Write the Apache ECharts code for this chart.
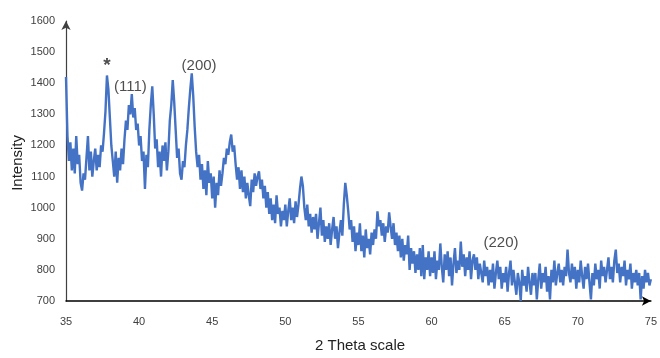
<!DOCTYPE html>
<html>
<head>
<meta charset="utf-8">
<script src="https://cdn.jsdelivr.net/npm/echarts@6/dist/echarts.min.js"></script>
<style>
    html, body { margin: 0; padding: 0; background: #fff; }
    #XrdChart { width: 660px; height: 358px; }
</style>
</head>
<body>
<div id="XrdChart"></div>
<script>
// scan settings (2 theta, degrees)
var scanStart = 35;
var scanStep = 0.1;
// intensity, one row per degree
var intensity = [
    1420, 1230, 1150, 1210, 1120, 1190, 1110, 1230, 1140, 1170,  // 35
    1080, 1055, 1110, 1090, 1160, 1230, 1120, 1180, 1100, 1150,  // 36
    1190, 1120, 1170, 1130, 1200, 1180, 1240, 1310, 1425, 1380,  // 37
    1290, 1200, 1150, 1100, 1180, 1080, 1160, 1120, 1190, 1140,  // 38
    1220, 1280, 1250, 1330, 1300, 1365, 1290, 1320, 1250, 1270,  // 39
    1200, 1230, 1150, 1180, 1060, 1170, 1130, 1250, 1330, 1390,  // 40
    1300, 1190, 1220, 1130, 1180, 1100, 1200, 1150, 1210, 1120,  // 41
    1180, 1280, 1330, 1410, 1340, 1250, 1160, 1190, 1110, 1090,  // 42
    1150, 1130, 1200, 1250, 1320, 1380, 1432, 1360, 1260, 1180,  // 43
    1130, 1170, 1090, 1140, 1060, 1120, 1040, 1150, 1080, 1110,  // 44
    1030, 1100, 1000, 1080, 1040, 1120, 1070, 1110, 1160, 1140,  // 45
    1190, 1170, 1210, 1235, 1180, 1200, 1140, 1090, 1130, 1060,  // 46
    1120, 1050, 1100, 1030, 1080, 1040, 1005, 1090, 1050, 1110,  // 47
    1070, 1100, 1117, 1060, 1090, 1030, 1070, 1000, 1050, 980,   // 48
    1030, 960, 1010, 950, 1040, 980, 1000, 940, 990, 960,        // 49
    1010, 940, 990, 1030, 960, 1000, 950, 1020, 970, 1010,       // 50
    1060, 1100, 1070, 1000, 960, 1010, 940, 980, 920, 970,       // 51
    930, 980, 900, 950, 1000, 910, 960, 890, 940, 900,           // 52
    950, 880, 930, 970, 900, 940, 870, 920, 960, 910,            // 53
    1010, 1080, 1040, 990, 930, 960, 890, 940, 860, 920,         // 54
    880, 950, 860, 910, 840, 930, 870, 900, 850, 920,            // 55
    880, 930, 900, 988, 940, 960, 910, 950, 890, 940,            // 56
    920, 985, 940, 900, 950, 880, 920, 860, 910, 840,            // 57
    900, 830, 880, 850, 910, 800, 870, 820, 860, 790,            // 58
    850, 800, 870, 780, 880, 770, 840, 800, 860, 780,            // 59
    840, 790, 860, 770, 830, 800, 885, 810, 760, 850,            // 60
    800, 860, 780, 840, 750, 820, 870, 790, 830, 800,            // 61
    891, 810, 850, 780, 840, 800, 860, 770, 830, 850,            // 62
    800, 840, 770, 820, 790, 760, 830, 780, 810, 750,            // 63
    800, 760, 820, 740, 790, 830, 770, 810, 740, 790,            // 64
    760, 810, 730, 790, 830, 750, 800, 760, 720, 790,            // 65
    760, 700, 800, 750, 780, 730, 810, 760, 720, 790,            // 66
    750, 790, 705, 770, 820, 740, 790, 760, 810, 730,            // 67
    780, 705, 800, 760, 830, 750, 790, 820, 760, 800,            // 68
    750, 810, 780, 865, 790, 760, 820, 770, 810, 740,            // 69
    800, 760, 830, 780, 740, 810, 770, 820, 760, 705,            // 70
    790, 750, 820, 770, 800, 740, 830, 780, 810, 760,            // 71
    800, 840, 770, 810, 760, 830, 865, 790, 820, 760,            // 72
    810, 780, 830, 750, 800, 770, 820, 740, 790, 760,            // 73
    800, 750, 790, 705, 780, 740, 800, 760, 790, 750,            // 74
    770                                                          // 75
];
var xTicks = [35, 75, 5];      // min, max, interval
var yTicks = [700, 1600, 100]; // min, max, interval
// peak labels: text, 2theta, intensity
var peakText = ['*', '(111)', '(200)', '(220)'];
var peakX = [37.8, 39.4, 44.1, 64.75];
var peakY = [1455, 1388, 1455, 886];

LoadXrd();

//XRD pattern
function LoadXrd() {
    var myChart = echarts.init(document.getElementById('XrdChart'));
    var points = intensity.map(function (v, i) {
        return [+(scanStart + i * scanStep).toFixed(1), v];
    });
    var labels = peakText.map(function (t, i) {
        return {
            value: [peakX[i], peakY[i]],
            label: {
                fontSize: t === '*' ? 19 : 15,
                fontWeight: t === '*' ? 'bold' : 'normal'
            }
        };
    });
    var font = '"Liberation Sans", Arial, sans-serif';
    var option = {
        backgroundColor: '#ffffff',
        animation: false,
        grid: {
            left: 66,
            right: 2,
            top: 21,
            bottom: 57
        },
        xAxis: {
            type: 'value',
            min: xTicks[0],
            max: xTicks[1],
            interval: xTicks[2],
            axisLine: {
                lineStyle: { color: '#000000', width: 1.5 },
                symbol: ['none', 'arrow'],
                symbolSize: [7, 9]
            },
            axisTick: { show: false },
            splitLine: { show: false },
            axisLabel: {
                color: '#404040',
                fontSize: 11,
                fontFamily: font,
                margin: 15,
                formatter: function (v) { return String(v); }
            }
        },
        yAxis: {
            type: 'value',
            min: yTicks[0],
            max: yTicks[1],
            interval: yTicks[2],
            axisLine: {
                show: true,
                lineStyle: { color: '#404040', width: 1.2 },
                symbol: ['none', 'arrow'],
                symbolSize: [7, 9]
            },
            axisTick: { show: false },
            splitLine: { show: false },
            axisLabel: {
                color: '#404040',
                fontSize: 11,
                fontFamily: font,
                margin: 11,
                formatter: function (v) { return String(v); }
            }
        },
        graphic: [
            {
                type: 'text',
                left: 10,
                top: 135,
                rotation: Math.PI / 2,
                style: {
                    text: 'Intensity',
                    fill: '#222',
                    font: '15px ' + font
                }
            },
            {
                type: 'text',
                left: 315,
                top: 338,
                style: {
                    text: '2 Theta scale',
                    fill: '#222',
                    font: '15px ' + font
                }
            }
        ],
        series: [{
            name: 'XRD',
            type: 'line',
            data: points,
            symbol: 'none',
            lineStyle: { color: '#4472C4', width: 2.4 },
            z: 2
        }, {
            name: 'peaks',
            type: 'scatter',
            data: labels,
            symbolSize: 0,
            silent: true,
            z: 3,
            label: {
                show: true,
                position: 'inside',
                color: '#222',
                fontFamily: font,
                formatter: function (p) { return peakText[p.dataIndex]; }
            }
        }]
    };
    myChart.setOption(option);
}
</script>
</body>
</html>
